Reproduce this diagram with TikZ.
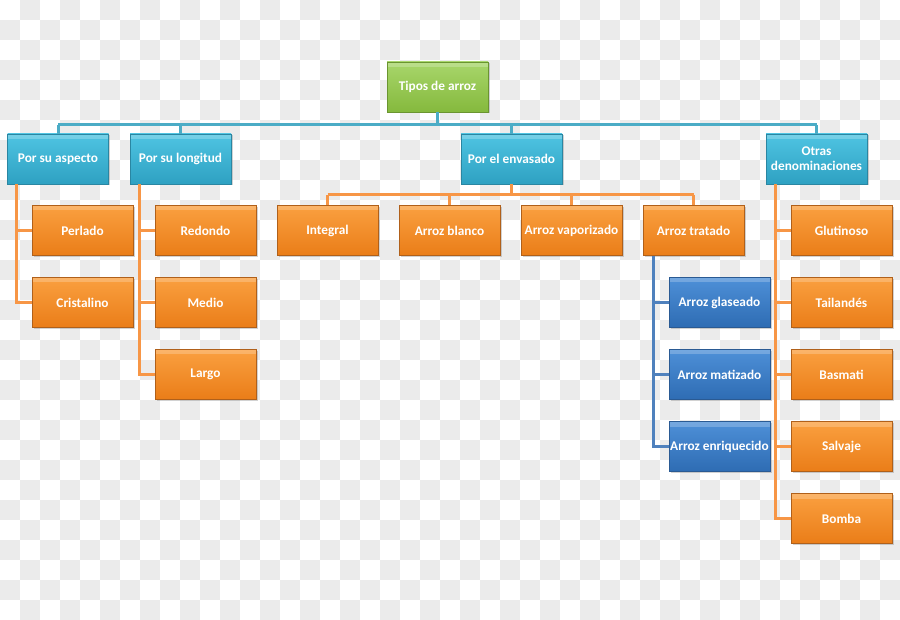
\documentclass[tikz,border=0pt]{standalone}
\usepackage{fontspec}
\setmainfont{Carlito}
\usetikzlibrary{shadows}
\definecolor{chk}{HTML}{EBEBEB}
\definecolor{orT}{HTML}{FAA040}
\definecolor{orB}{HTML}{EA7D18}
\definecolor{orD}{HTML}{B0601A}
\definecolor{tlT}{HTML}{4FC4E2}
\definecolor{tlB}{HTML}{2EA1C2}
\definecolor{tlD}{HTML}{2A86A2}
\definecolor{blT}{HTML}{4E90D8}
\definecolor{blB}{HTML}{2E6CB3}
\definecolor{blD}{HTML}{2A5A93}
\definecolor{grT}{HTML}{A8D66B}
\definecolor{grB}{HTML}{85B93D}
\definecolor{grD}{HTML}{6A9530}
\definecolor{lnT}{HTML}{4BACC6}
\definecolor{lnO}{HTML}{F79646}
\definecolor{lnB}{HTML}{4F81BD}
\tikzset{
  box/.style={rectangle, minimum width=101pt, minimum height=50pt, inner sep=1pt,
    text=white, font=\bfseries\fontsize{13.3}{15}\selectfont, align=center,
    line width=0.8pt,
    drop shadow={shadow xshift=1.5pt, shadow yshift=-1.5pt, opacity=0.35},
    path picture={\fill[white,opacity=0.22] (path picture bounding box.north west) rectangle ([yshift=-5pt]path picture bounding box.north east);}},
  obox/.style={box, draw=orD, top color=orT, bottom color=orB},
  tbox/.style={box, draw=tlD, top color=tlT, bottom color=tlB},
  bbox/.style={box, draw=blD, top color=blT, bottom color=blB},
  gbox/.style={box, draw=grD, top color=grT, bottom color=grB},
  tline/.style={draw=lnT, line width=3pt},
  oline/.style={draw=lnO, line width=3pt},
  bline/.style={draw=lnB, line width=3pt},
}
\begin{document}
\begin{tikzpicture}[x=1pt,y=-1pt]
\useasboundingbox (0,0) rectangle (900,620);
\fill[white] (0,0) rectangle (900,620);
\foreach \i in {0,...,44}{
  \foreach \j in {0,...,30}{
    \pgfmathtruncatemacro\chkodd{mod(\i+\j,2)}
    \ifnum\chkodd=1 \fill[chk] (\i*20,\j*20) rectangle (\i*20+20,\j*20+20);\fi
  }
}
\coordinate (bus) at (0,125);
\coordinate (ebus) at (0,195);

% nodes
\node[gbox] (tipos) at (437.5,87) {Tipos de arroz};
\node[tbox] (aspecto) at (58,159) {Por su aspecto};
\node[tbox] (longitud) at (180.5,159) {Por su longitud};
\node[tbox] (envasado) at (511.5,159) {Por el envasado};
\node[tbox] (otras) at (816.5,159) {Otras\\denominaciones};

\node[obox] (perlado) at (82.5,230.5) {Perlado};
\node[obox] (redondo) at (205.5,230.5) {Redondo};
\node[obox] (integral) at (327.5,230.5) {Integral};
\node[obox] (blanco) at (449.5,230.5) {Arroz blanco};
\node[obox] (vapor) at (571.5,230.5) {Arroz vaporizado};
\node[obox] (tratado) at (693.5,230.5) {Arroz tratado};
\node[obox] (glutinoso) at (841.5,230.5) {Glutinoso};

\node[obox] (cristalino) at (82.5,302.5) {Cristalino};
\node[obox] (medio) at (205.5,302.5) {Medio};
\node[bbox] (glaseado) at (719.5,302.5) {Arroz glaseado};
\node[obox] (tailandes) at (841.5,302.5) {Tailandés};

\node[obox] (largo) at (205.5,374.5) {Largo};
\node[bbox] (matizado) at (719.5,374.5) {Arroz matizado};
\node[obox] (basmati) at (841.5,374.5) {Basmati};

\node[bbox] (enriquecido) at (719.5,446.5) {Arroz enriquecido};
\node[obox] (salvaje) at (841.5,446.5) {Salvaje};

\node[obox] (bomba) at (841.5,518.5) {Bomba};

% connectors
\path[tline] (tipos.south) -- (tipos.south |- bus);
\path[tline] (aspecto.north |- bus) -- (otras.north |- bus);
\foreach \n in {aspecto,longitud,envasado,otras}{\path[tline] (\n.north |- bus) -- (\n.north);}

\path[oline] (envasado.south) -- (envasado.south |- ebus);
\path[oline] (integral.north |- ebus) -- (tratado.north |- ebus);
\foreach \n in {integral,blanco,vapor,tratado}{\path[oline] (\n.north |- ebus) -- (\n.north);}

\path[oline] ([xshift=9.5pt]aspecto.south west) |- (cristalino.west);
\path[oline] ([xshift=9.5pt]aspecto.south west |- perlado.west) -- (perlado.west);

\path[oline] ([xshift=10pt]longitud.south west) |- (largo.west);
\foreach \n in {redondo,medio}{\path[oline] ([xshift=10pt]longitud.south west |- \n.west) -- (\n.west);}

\path[oline] ([xshift=10pt]otras.south west) |- (bomba.west);
\foreach \n in {glutinoso,tailandes,basmati,salvaje}{\path[oline] ([xshift=10pt]otras.south west |- \n.west) -- (\n.west);}

\path[bline] ([xshift=11pt]tratado.south west) |- (enriquecido.west);
\foreach \n in {glaseado,matizado}{\path[bline] ([xshift=11pt]tratado.south west |- \n.west) -- (\n.west);}
\end{tikzpicture}
\end{document}
